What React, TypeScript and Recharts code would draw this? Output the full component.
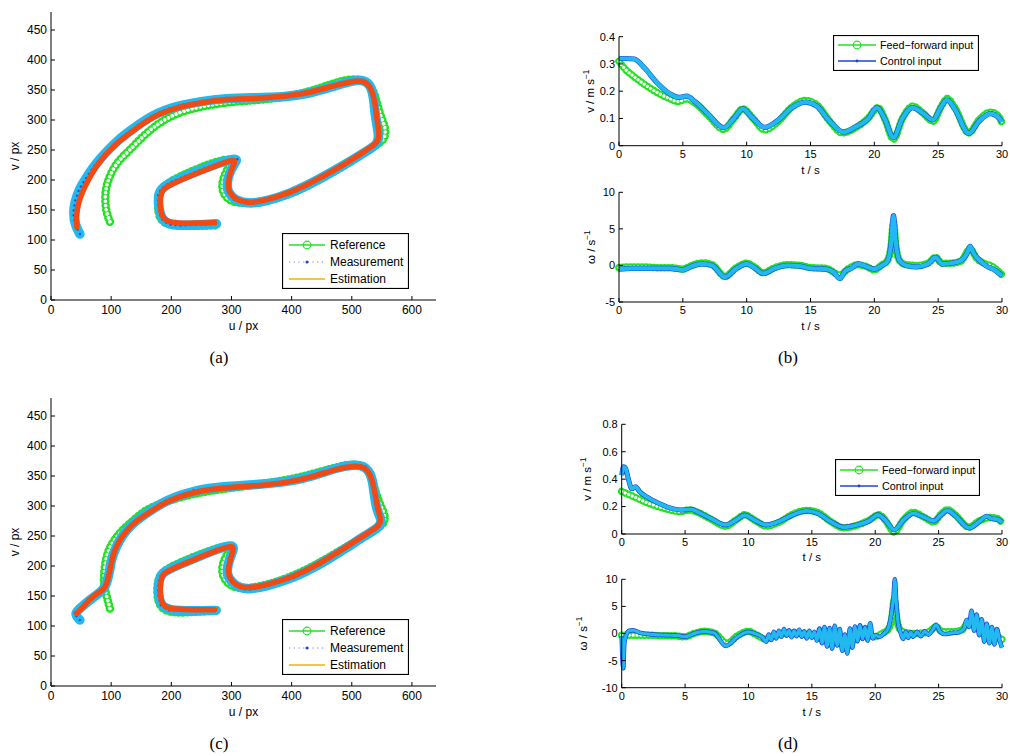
import React from "react"
import { Label, Legend, Line, LineChart, XAxis, YAxis } from "recharts"

const SANS = '"Liberation Sans", Arial, Helvetica, sans-serif'
const SERIF = '"Liberation Serif", "Times New Roman", serif'
const GREEN = "#22e222"
const CYAN = "#22b8f0"
const BLUE = "#1846dc"
const RED = "#f24a12"
const YELLOW = "#f5c444"

// ---- (a) image trajectories, u / v in px ----
const refAU = [98, 92, 89.7, 91, 95, 103.6, 115, 131, 147, 164.5, 180, 198, 220, 248, 292, 347, 403, 447, 486, 513.6, 533, 541, 547, 557, 555, 536, 502.5, 447, 403, 358, 314, 292, 281, 292, 303, 281, 237, 192, 178, 177, 187, 225.5, 275]
const refAV = [130.5, 145, 166.7, 185, 200, 219.5, 235, 250, 267, 283, 295, 305.5, 315, 322, 330, 333, 340, 353, 367, 369, 358, 333, 308, 286, 266.7, 255.5, 233, 200, 178, 164, 160, 167, 189, 216.7, 236, 233, 216.7, 195.5, 178, 144, 125, 123, 124.4]
const estAU = [43, 42, 45, 52, 62, 73, 85, 98, 114, 131, 150, 170, 192, 214, 248, 292, 336, 386, 430, 469, 502, 519, 530, 538.5, 541, 547, 541, 524.6, 491, 441.6, 397, 358, 331, 306, 296, 294, 297, 305, 306, 298, 275, 236.6, 198, 186, 182, 181, 184, 192, 210, 240, 272]
const estAV = [122, 140, 160, 180, 200, 219.5, 236, 250, 265, 278, 292, 305.5, 315, 322, 329, 335, 335.5, 339, 345.5, 357, 365, 365.5, 358, 333, 305.5, 272, 261, 250, 228, 200, 178, 167, 161, 167, 180, 190, 211, 228, 233, 233, 224, 209, 192, 185, 175, 155, 140, 131, 128, 128, 129]
const measAU = [48, 40, 37, 40, 47, 58, 70, 83, 97, 112, 129, 148, 168, 190, 213, 248, 292, 336, 386, 430, 469, 502, 520, 532, 537, 539, 546, 542, 526, 491, 441.6, 397, 358, 331, 305, 294, 292, 296, 306, 310, 300, 275, 236.6, 198, 184, 178, 179, 183, 195, 215, 240, 275]
const measAV = [110, 125, 145, 165, 185, 203, 221, 237, 252, 267, 280, 294, 307, 317, 324, 331, 336, 337, 338, 344, 356, 366, 367, 358, 333, 305, 272, 259, 249, 227, 199, 177, 165, 160, 166, 180, 192, 212, 229, 235, 235, 227, 212, 196, 186, 176, 155, 136, 126, 124, 125, 127]

// ---- (c) image trajectories ----
const refCU = [98, 95, 91, 88, 88, 90, 94, 100, 109, 120, 131, 146, 161.7, 192, 236.6, 292, 353, 403, 447, 486, 516, 530, 538.5, 547, 557, 552, 530, 491, 447, 403, 358, 314, 292, 281, 292, 306, 281, 236.6, 192, 178, 175.6, 181, 203, 247.6, 278]
const refCV = [129, 140, 155, 170, 185, 205, 222, 235, 249, 261, 271, 284, 296, 308, 321, 329.4, 337, 345, 357, 368, 370, 357, 326.7, 301.7, 282, 268, 254, 232, 205.5, 183, 168, 160, 170, 193, 221, 235, 232, 215.5, 196, 182, 154, 129, 121, 124, 126.7]
const estCU = [42.7, 52, 64.8, 80, 88, 92.5, 96, 98, 101, 103.6, 112, 125.8, 142, 161.7, 192, 236.6, 292, 347, 392, 436, 475, 502.5, 522, 533, 538.5, 544, 549.6, 544, 524.6, 491, 447, 403, 358, 325, 306, 296, 294, 298, 304, 301, 275, 236.6, 198, 186, 182, 181, 184, 195, 236.6, 272]
const estCV = [121, 130, 146, 156, 162, 170, 185, 193, 208, 221, 240, 260, 276, 288, 308, 324, 331, 334, 339, 349, 362, 367, 365.5, 349, 321, 290.5, 276.7, 265.5, 254, 232, 204, 182, 168, 162, 168, 181, 192, 212, 230, 234, 226, 210, 194, 187, 175, 155, 136, 128, 127, 127]
const measCU = [48, 38, 50, 64, 79, 87, 93, 97, 100, 104, 113, 126, 143, 162, 192, 236.6, 292, 347, 392, 436, 475, 502.5, 522, 534, 537, 542, 551, 545, 524, 491, 447, 403, 358, 325, 306, 294, 292, 297, 305, 300, 275, 236.6, 198, 184, 179, 178, 182, 195, 236.6, 274]
const measCV = [110, 121, 131, 143, 154, 161, 172, 190, 208, 222, 242, 261, 277, 290, 310, 326, 333, 336, 340, 350, 364, 369, 367, 350, 321, 290, 276, 264, 252, 230, 202, 180, 166, 160, 167, 181, 193, 213, 231, 235, 228, 212, 196, 188, 175, 155, 135, 126, 125, 126]

// ---- (b) inputs over time ----
const bFfT = [0, 0.5, 1, 2, 3, 4, 4.6, 5.3, 6, 7, 8.2, 9, 9.7, 10.5, 11.4, 12.5, 13.5, 14.6, 15.5, 16.5, 17.5, 18.5, 19.5, 20.3, 20.8, 21.5, 22.2, 23, 23.8, 24.6, 25.2, 25.7, 26.3, 27.4, 28.2, 29.1, 29.7, 30]
const bFfV = [0.31, 0.28, 0.26, 0.225, 0.195, 0.172, 0.162, 0.172, 0.155, 0.11, 0.06, 0.1, 0.135, 0.1, 0.058, 0.09, 0.14, 0.166, 0.15, 0.09, 0.047, 0.065, 0.1, 0.14, 0.1, 0.024, 0.1, 0.145, 0.12, 0.09, 0.14, 0.173, 0.14, 0.047, 0.095, 0.123, 0.11, 0.083]
const bCtrlT = [0, 0.6, 1.2, 2, 3, 4, 4.7, 5.3, 6, 7, 8.2, 9, 9.7, 10.5, 11.4, 12.5, 13.5, 14.6, 15.5, 16.5, 17.6, 18.5, 19.5, 20.2, 20.8, 21.5, 22.2, 23, 23.8, 24.6, 25.2, 25.7, 26.3, 27.4, 28.2, 29.1, 29.7, 30]
const bCtrlV = [0.32, 0.32, 0.318, 0.285, 0.23, 0.19, 0.177, 0.182, 0.16, 0.115, 0.066, 0.1, 0.135, 0.1, 0.067, 0.095, 0.138, 0.16, 0.145, 0.09, 0.05, 0.068, 0.098, 0.14, 0.1, 0.03, 0.1, 0.14, 0.12, 0.095, 0.14, 0.168, 0.135, 0.045, 0.09, 0.118, 0.105, 0.088]
const bWffT = [0, 1, 2, 3, 4, 5, 5.7, 6.5, 7.3, 8.3, 9.2, 10, 10.6, 11.3, 12.2, 13.2, 14.2, 15, 16.2, 17.3, 18, 18.7, 19.3, 20, 20.6, 21, 21.3, 21.5, 21.7, 22, 22.5, 23.3, 24.2, 24.8, 25.3, 26, 26.8, 27.5, 28, 28.6, 29.3, 30]
const bWffV = [-0.3, -0.2, -0.2, -0.3, -0.3, -0.5, 0, 0.35, 0.1, -1.5, -0.3, 0.3, -0.2, -1.0, -0.3, 0.1, 0, -0.3, -0.4, -1.3, -0.4, 0.1, -0.1, -0.6, 0.1, 0.6, 2.5, 5.9, 2.5, 0.6, 0.1, 0, 0.3, 1.1, 0.3, 0.3, 0.6, 2.3, 1.0, 0.3, -0.2, -1.3]
const bWctrlT = [0, 1, 2, 3, 4, 5, 5.7, 6.5, 7.3, 8.3, 9.2, 10, 10.6, 11.3, 12.2, 13.2, 14.2, 15, 16.2, 16.8, 17.3, 17.7, 18.2, 18.7, 19.3, 20, 20.6, 21, 21.3, 21.5, 21.7, 22, 22.5, 23.3, 24.2, 24.8, 25.3, 26, 26.8, 27.3, 27.5, 27.8, 28.3, 28.8, 29.3, 30]
const bWctrlV = [-0.5, -0.4, -0.4, -0.4, -0.4, -0.6, -0.1, 0.2, 0, -1.6, -0.4, 0.2, -0.3, -1.1, -0.4, 0, -0.1, -0.4, -0.5, -0.9, -1.8, -0.8, -0.4, 0.2, -0.1, -0.5, 0, 0.5, 2.8, 6.8, 2.8, 0.6, 0, -0.2, 0.2, 1.1, 0.2, 0.3, 0.7, 1.8, 2.6, 1.6, 0.6, -0.1, -0.5, -1.4]

// ---- (d) inputs over time ----
const dFfT = [0, 1, 2, 3, 4, 4.6, 5.3, 6, 7, 8.2, 9, 9.7, 10.5, 11.4, 12.5, 13.5, 14.6, 15.5, 16.5, 17.5, 18.5, 19.5, 20.3, 20.8, 21.5, 22.2, 23, 23.8, 24.6, 25.2, 25.7, 26.3, 27.4, 28.2, 29.1, 29.7, 30]
const dFfV = [0.31, 0.27, 0.228, 0.197, 0.172, 0.163, 0.175, 0.158, 0.11, 0.058, 0.1, 0.14, 0.1, 0.058, 0.09, 0.145, 0.172, 0.155, 0.09, 0.045, 0.062, 0.1, 0.14, 0.1, 0.015, 0.1, 0.158, 0.125, 0.088, 0.145, 0.178, 0.14, 0.05, 0.095, 0.12, 0.11, 0.08]
const dCtrlT = [0, 0.15, 0.3, 0.5, 0.8, 1.1, 1.4, 2, 3, 4, 4.7, 5.5, 6, 7, 8.2, 9, 9.7, 10.5, 11.4, 12.5, 13.5, 14.6, 15.5, 16.5, 17.5, 18.5, 19.5, 20.2, 20.8, 21.5, 22.2, 23, 23.8, 24.6, 25.2, 25.7, 26.3, 27.4, 28.2, 28.8, 29.1, 29.7, 30]
const dCtrlV = [0.43, 0.49, 0.48, 0.41, 0.33, 0.345, 0.31, 0.27, 0.22, 0.185, 0.175, 0.18, 0.16, 0.115, 0.066, 0.1, 0.138, 0.1, 0.066, 0.095, 0.14, 0.168, 0.15, 0.09, 0.05, 0.065, 0.095, 0.14, 0.1, 0.03, 0.1, 0.15, 0.125, 0.095, 0.14, 0.172, 0.135, 0.045, 0.09, 0.13, 0.115, 0.105, 0.085]
const dWffT = [0, 1, 2, 3, 4, 5, 5.7, 6.5, 7.3, 8.3, 9.2, 10, 10.6, 11.3, 12.2, 13.2, 14.2, 15, 16.2, 17.3, 18, 18.7, 19.3, 20, 20.6, 21, 21.3, 21.5, 21.7, 22, 22.5, 23.3, 24.2, 24.8, 25.3, 26, 26.8, 27.5, 28, 28.6, 29.3, 30]
const dWffV = [-0.3, -0.3, -0.3, -0.4, -0.4, -0.6, 0, 0.4, 0.1, -1.8, -0.3, 0.4, -0.2, -1.0, -0.3, 0.1, 0, -0.3, -0.4, -1.3, -0.4, 0.1, -0.1, -0.6, 0.1, 0.7, 2.7, 6.2, 2.7, 0.6, 0.1, 0, 0.3, 1.2, 0.3, 0.3, 0.6, 2.4, 1.0, 0.3, -0.2, -1.1]
const dWctrlT = [0, 0.05, 0.12, 0.2, 0.35, 0.6, 0.9, 1.5, 2.5, 3.5, 4.5, 5, 5.7, 6.5, 7.3, 8.2, 9.2, 10, 10.6, 11.1, 11.4, 11.6, 11.8, 12, 12.2, 12.4, 12.6, 12.8, 13, 13.2, 13.4, 13.6, 13.8, 14, 14.2, 14.4, 14.6, 14.8, 15, 15.2, 15.4, 15.6, 15.8, 16, 16.2, 16.4, 16.6, 16.8, 17, 17.2, 17.4, 17.6, 17.8, 18, 18.2, 18.4, 18.6, 18.8, 19, 19.2, 19.4, 19.6, 19.8, 20, 20.3, 20.7, 21, 21.3, 21.45, 21.55, 21.65, 21.8, 22, 22.2, 22.4, 22.6, 22.8, 23, 23.3, 23.6, 23.9, 24.2, 24.5, 24.8, 25.1, 25.5, 26, 26.5, 27, 27.2, 27.4, 27.6, 27.8, 28, 28.2, 28.4, 28.6, 28.8, 29, 29.2, 29.4, 29.6, 29.8, 30]
const dWctrlV = [-0.5, -4, -6.4, -2, -0.3, 0.5, 0.6, 0.1, -0.2, -0.3, -0.4, -0.6, 0, 0.4, 0.1, -2.3, -0.5, 0.3, -0.1, -0.7, -1.5, -0.2, -1.2, 0.3, -0.9, 0.5, -0.6, 0.8, -0.4, 0.6, -0.7, 0.5, -0.5, 0.7, -0.6, 0.4, -0.9, 0.5, -0.8, 0.3, -1.3, 0.9, -1.8, 1.2, -2.4, 1.0, -2.8, 1.4, -2.2, 0.8, -3.2, -0.2, -3.7, 0.9, -2.6, 1.3, -1.4, 1.5, -1.0, 1.2, -1.3, 1.9, -0.9, -0.3, -0.6, 0, 0.8, 4, 7, 10, 6, 2, 0.2, -1.0, 0.3, -0.8, 0.2, -0.6, 0.3, -0.5, 0.4, -0.2, 0.6, 1.6, 0.4, -0.1, 0.1, 0.2, 0.9, 2.5, 1.2, 4.2, 0.5, 3.5, -0.3, 2.6, -1.5, 1.8, -1.8, 1.2, -2.0, 0.8, -1.2, -2.6]

// ---- ticks ----
const uTicks = [0, 100, 200, 300, 400, 500, 600]
const vTicks = [0, 50, 100, 150, 200, 250, 300, 350, 400, 450]
const tTicks = [0, 5, 10, 15, 20, 25, 30]
const bSpeedTicks = [0, 0.1, 0.2, 0.3, 0.4]
const bRateTicks = [-5, 0, 5, 10]
const dSpeedTicks = [0, 0.2, 0.4, 0.6, 0.8]
const dRateTicks = [-10, -5, 0, 5, 10]

type UV = { u: number; v: number }
type TY = { t: number; y: number }
const zipUV = (u: number[], v: number[]): UV[] => u.map((x, i) => ({ u: x, v: v[i] }))
const zipTY = (t: number[], y: number[]): TY[] => t.map((x, i) => ({ t: x, y: y[i] }))

const xTitle = (text: string, dy: number, size: number) => (p: any) => {
   const vb = p.viewBox
   if (!vb) return null
   return (
      <text x={vb.x + vb.width / 2} y={vb.y + dy} textAnchor="middle" fontSize={size} fontFamily={SANS} fill="#000">
         {text}
      </text>
   )
}

const yTitle = (main: string, sup: string | null, dx: number, size: number) => (p: any) => {
   const vb = p.viewBox
   if (!vb) return null
   const cx = vb.x + vb.width - dx
   const cy = vb.y + vb.height / 2
   return (
      <text x={cx} y={cy} transform={`rotate(-90 ${cx} ${cy})`} textAnchor="middle" fontSize={size} fontFamily={SANS} fill="#000">
         {main}
         {sup && (
            <tspan dy={-5} fontSize={size * 0.72}>
               {sup}
            </tspan>
         )}
      </text>
   )
}

// green hollow-circle markers, drawn as a chain of rings
const ringLines = (data: any[], key: string, outer: number, inner: number, gap: number, curve: any, id: string) => [
   <Line key={id + "o"} data={data} dataKey={key} type={curve} stroke={GREEN} strokeWidth={outer} strokeDasharray={`0.01 ${gap}`} strokeLinecap="round" dot={false} activeDot={false} isAnimationActive={false} />,
   <Line key={id + "i"} data={data} dataKey={key} type={curve} stroke="#fff" strokeWidth={inner} strokeDasharray={`0.01 ${gap}`} strokeLinecap="round" dot={false} activeDot={false} isAnimationActive={false} />,
]

const TrajLegend = () => (
   <svg width={127} height={56} style={{ display: "block" }}>
      <rect x={0.5} y={0.5} width={126} height={55} fill="#fff" stroke="#000" strokeWidth={1.2} />
      <line x1={7} x2={43} y1={12} y2={12} stroke={GREEN} strokeWidth={1.3} />
      <circle cx={25} cy={12} r={3.8} fill="none" stroke={GREEN} strokeWidth={1.2} />
      <line x1={7} x2={43} y1={29} y2={29} stroke="#6a80f0" strokeWidth={1.2} strokeDasharray="1.2 3.5" />
      <circle cx={25} cy={29} r={1.5} fill={BLUE} />
      <line x1={7} x2={43} y1={46} y2={46} stroke={YELLOW} strokeWidth={1.8} />
      <g fontFamily={SANS} fontSize={12} fill="#000">
         <text x={48} y={16}>Reference</text>
         <text x={48} y={33}>Measurement</text>
         <text x={48} y={50}>Estimation</text>
      </g>
   </svg>
)

const InputLegend = ({ w, h, r1, r2 }: { w: number; h: number; r1: number; r2: number }) => (
   <svg width={w} height={h} style={{ display: "block" }}>
      <rect x={0.5} y={0.5} width={w - 1} height={h - 1} fill="#fff" stroke="#000" strokeWidth={1.2} />
      <line x1={5} x2={43} y1={r1} y2={r1} stroke={GREEN} strokeWidth={1.3} />
      <circle cx={24} cy={r1} r={3.8} fill="none" stroke={GREEN} strokeWidth={1.2} />
      <line x1={5} x2={43} y1={r2} y2={r2} stroke={BLUE} strokeWidth={1.5} />
      <circle cx={24} cy={r2} r={1.4} fill={BLUE} />
      <g fontFamily={SANS} fontSize={10.8} fill="#000">
         <text x={47} y={r1 + 4}>Feed−forward input</text>
         <text x={47} y={r2 + 4}>Control input</text>
      </g>
   </svg>
)

const axisStyle = { stroke: "#000", strokeWidth: 1 }

interface TrajProps {
   height: number
   top: number
   refData: UV[]
   estData: UV[]
   measData: UV[]
   legendTop: number
}

const TrajChart = ({ height, top, refData, estData, measData, legendTop }: TrajProps) => (
   <LineChart width={460} height={height} margin={{ top, right: 24, bottom: 0, left: 0 }}>
      <XAxis type="number" dataKey="u" domain={[0, 640]} ticks={uTicks} interval={0} height={45} tickSize={-4} tickMargin={9} axisLine={axisStyle} tickLine={axisStyle} tick={{ fontSize: 12, fill: "#000", fontFamily: SANS }}>
         <Label content={xTitle("u / px", 30, 12)} />
      </XAxis>
      <YAxis type="number" dataKey="v" domain={[0, 480]} ticks={vTicks} interval={0} width={51} tickSize={-4} tickMargin={8} axisLine={axisStyle} tickLine={axisStyle} tick={{ fontSize: 12, fill: "#000", fontFamily: SANS }}>
         <Label content={yTitle("v / px", null, 32, 12)} />
      </YAxis>
      {ringLines(refData, "v", 8.5, 3.6, 4.2, "basis", "ref")}
      <Line data={measData} dataKey="v" type="basis" stroke={CYAN} strokeWidth={9.5} strokeLinejoin="round" strokeLinecap="round" dot={false} activeDot={false} isAnimationActive={false} />
      <Line data={measData} dataKey="v" type="linear" stroke={BLUE} strokeWidth={2.2} strokeDasharray="0.01 5" strokeLinecap="round" dot={false} activeDot={false} isAnimationActive={false} />
      <Line data={estData} dataKey="v" type="basis" stroke={RED} strokeWidth={5.5} strokeLinejoin="round" strokeLinecap="round" dot={false} activeDot={false} isAnimationActive={false} />
      <Legend verticalAlign="middle" align="center" layout="horizontal" content={() => <TrajLegend />} wrapperStyle={{ left: 282, top: legendTop, width: 127, height: 56 }} />
   </LineChart>
)

interface TimeProps {
   height: number
   top: number
   yWidth: number
   xHeight: number
   domain: [number, number]
   ticks: number[]
   ff: TY[]
   ctrl: TY[]
   title: (p: any) => any
   xDy: number
   bandW: number
   coreW: number
   legend?: { left: number; top: number; w: number; h: number; r1: number; r2: number }
}

const TimeChart = ({ height, top, yWidth, xHeight, domain, ticks, ff, ctrl, title, xDy, bandW, coreW, legend }: TimeProps) => (
   <LineChart width={450} height={height} margin={{ top, right: 8, bottom: 0, left: 0 }}>
      <XAxis type="number" dataKey="t" domain={[0, 30]} ticks={tTicks} interval={0} height={xHeight} tickSize={-4} tickMargin={8} axisLine={axisStyle} tickLine={axisStyle} tick={{ fontSize: 11, fill: "#000", fontFamily: SANS }}>
         <Label content={xTitle("t / s", xDy, 11.5)} />
      </XAxis>
      <YAxis type="number" dataKey="y" domain={domain} ticks={ticks} interval={0} width={yWidth} tickSize={-4} tickMargin={8} axisLine={axisStyle} tickLine={axisStyle} tick={{ fontSize: 11, fill: "#000", fontFamily: SANS }}>
         <Label content={title} />
      </YAxis>
      {ringLines(ff, "y", 7.5, 3.2, 3.8, "monotone", "ff")}
      <Line data={ctrl} dataKey="y" type="monotone" stroke={BLUE} strokeWidth={bandW} strokeLinejoin="round" dot={false} activeDot={false} isAnimationActive={false} />
      <Line data={ctrl} dataKey="y" type="monotone" stroke={CYAN} strokeWidth={coreW} strokeLinejoin="round" dot={false} activeDot={false} isAnimationActive={false} />
      {legend && (
         <Legend verticalAlign="middle" align="center" layout="horizontal" content={() => <InputLegend w={legend.w} h={legend.h} r1={legend.r1} r2={legend.r2} />} wrapperStyle={{ left: legend.left, top: legend.top, width: legend.w, height: legend.h }} />
      )}
   </LineChart>
)

const Panel = ({ left, top, children }: { left: number; top: number; children: React.ReactNode }) => (
   <div style={{ position: "absolute", left, top }}>{children}</div>
)

const Caption = ({ x, y, text }: { x: number; y: number; text: string }) => (
   <div style={{ position: "absolute", left: x - 20, top: y - 10, width: 40, lineHeight: "20px", textAlign: "center", fontFamily: SERIF, fontSize: 17 }}>
      {text}
   </div>
)

export default function App() {
   return (
      <div style={{ position: "absolute", left: 0, top: 0, width: 1010, height: 756, background: "#fff", overflow: "hidden" }}>
         <Panel left={0} top={0}>
            <TrajChart height={345} top={12} refData={zipUV(refAU, refAV)} estData={zipUV(estAU, estAV)} measData={zipUV(measAU, measAV)} legendTop={233} />
         </Panel>
         <Panel left={0} top={380}>
            <TrajChart height={351} top={18} refData={zipUV(refCU, refCV)} estData={zipUV(estCU, estCV)} measData={zipUV(measCU, measCV)} legendTop={239} />
         </Panel>
         <Panel left={560} top={20}>
            <TimeChart height={160} top={16.7} yWidth={59} xHeight={34.3} domain={[0, 0.4]} ticks={bSpeedTicks} ff={zipTY(bFfT, bFfV)} ctrl={zipTY(bCtrlT, bCtrlV)} title={yTitle("v / m s", "−1", 25, 11.5)} xDy={28} bandW={5.2} coreW={4.2} legend={{ left: 273, top: 15, w: 146, h: 36, r1: 10, r2: 26 }} />
         </Panel>
         <Panel left={560} top={180}>
            <TimeChart height={156} top={12.3} yWidth={59} xHeight={34} domain={[-5, 10]} ticks={bRateTicks} ff={zipTY(bWffT, bWffV)} ctrl={zipTY(bWctrlT, bWctrlV)} title={yTitle("ω / s", "−1", 24, 11.5)} xDy={27.7} bandW={5.2} coreW={4.2} />
         </Panel>
         <Panel left={560} top={405}>
            <TimeChart height={160} top={19.3} yWidth={61.7} xHeight={31} domain={[0, 0.8]} ticks={dSpeedTicks} ff={zipTY(dFfT, dFfV)} ctrl={zipTY(dCtrlT, dCtrlV)} title={yTitle("v / m s", "−1", 31, 11.5)} xDy={27} bandW={5} coreW={3.8} legend={{ left: 275, top: 54, w: 145, h: 37, r1: 11, r2: 27 }} />
         </Panel>
         <Panel left={560} top={565}>
            <TimeChart height={160} top={14.3} yWidth={61.7} xHeight={37.3} domain={[-10, 10]} ticks={dRateTicks} ff={zipTY(dWffT, dWffV)} ctrl={zipTY(dWctrlT, dWctrlV)} title={yTitle("ω / s", "−1", 35, 11.5)} xDy={28} bandW={4.6} coreW={3.2} />
         </Panel>
         <Caption x={219} y={358} text="(a)" />
         <Caption x={788} y={358} text="(b)" />
         <Caption x={219} y={744} text="(c)" />
         <Caption x={788} y={744} text="(d)" />
      </div>
   )
}
